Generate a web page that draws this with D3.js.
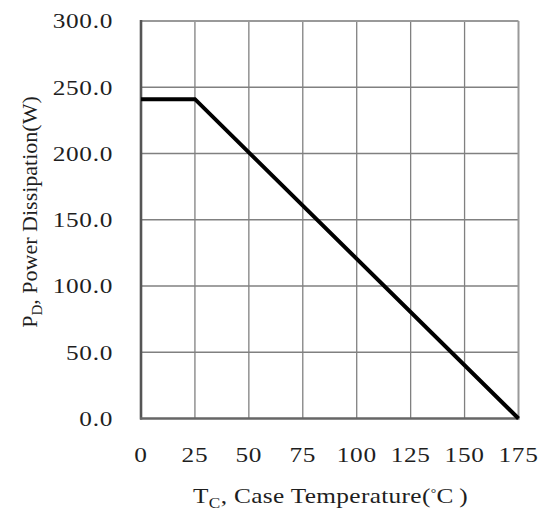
<!DOCTYPE html>
<html><head><meta charset="utf-8">
<script src="https://cdn.jsdelivr.net/npm/d3@7"></script>
<style>
body{margin:0;background:#fff;}
text{font-family:"Liberation Serif","Times New Roman",serif;fill:#1e1e1e;}
</style></head>
<body><svg id="c" width="550" height="516"></svg>
<script>
const tempC = [0, 25, 175];
const powerW = [241, 241, 0];
const xTicks = [0, 25, 50, 75, 100, 125, 150, 175];
const yTicks = [0, 50, 100, 150, 200, 250, 300];

const svg = d3.select("#c");
const L = 141, R = 518.5, T = 21, B = 418.5;
const x = d3.scaleLinear().domain([0, 175]).range([L, R]);
const y = d3.scaleLinear().domain([0, 300]).range([B, T]);
const SX = 1.15;

// grid
svg.append("g").selectAll("line").data(xTicks.slice(1, -1)).join("line")
  .attr("x1", d => x(d)).attr("x2", d => x(d)).attr("y1", T).attr("y2", B)
  .attr("stroke", "#808080").attr("stroke-width", 1.3);
svg.append("g").selectAll("line").data(yTicks.slice(1, -1)).join("line")
  .attr("y1", d => y(d)).attr("y2", d => y(d)).attr("x1", L).attr("x2", R)
  .attr("stroke", "#808080").attr("stroke-width", 1.3);

// frame
svg.append("line").attr("x1", L).attr("x2", R).attr("y1", T).attr("y2", T).attr("stroke", "#999").attr("stroke-width", 2);
svg.append("line").attr("x1", R).attr("x2", R).attr("y1", T).attr("y2", B).attr("stroke", "#999").attr("stroke-width", 2);
svg.append("line").attr("x1", L).attr("x2", L).attr("y1", T - 1).attr("y2", B + 1).attr("stroke", "#555").attr("stroke-width", 2.6);
svg.append("line").attr("x1", L - 1).attr("x2", R + 1).attr("y1", B).attr("y2", B).attr("stroke", "#666").attr("stroke-width", 2.4);

// data line
const pts = tempC.map((t, i) => [t, powerW[i]]);
svg.append("path").datum(pts)
  .attr("d", d3.line().x(d => x(d[0])).y(d => y(d[1])))
  .attr("fill", "none").attr("stroke", "#000").attr("stroke-width", 4).attr("stroke-linejoin", "miter");

// tick labels
svg.append("g").selectAll("text").data(xTicks).join("text")
  .attr("transform", d => `translate(${x(d)},462) scale(${SX},1)`)
  .attr("text-anchor", "middle").style("font-size", "22px").style("letter-spacing", "0.6px").text(d => d);
svg.append("g").selectAll("text").data(yTicks).join("text")
  .attr("transform", d => `translate(113,${y(d)}) scale(${SX},1)`)
  .attr("text-anchor", "end").attr("dy", "0.34em").style("font-size", "22px").style("letter-spacing", "0.6px").text(d => d.toFixed(1));

// x title
const xt = svg.append("text").attr("transform", `translate(330.5,503) scale(${SX},1)`)
  .attr("text-anchor", "middle").style("font-size", "22px").style("letter-spacing", "0.3px");
xt.append("tspan").text("T");
xt.append("tspan").attr("dy", 5).style("font-size", "15px").text("C");
xt.append("tspan").attr("dy", -5).text(", Case Temperature(");
xt.append("tspan").attr("dy", -6).style("font-size", "12px").text("°");
xt.append("tspan").attr("dy", 6).text("C\u2009)");

// y title
const yt = svg.append("text").attr("transform", `translate(37,212) rotate(-90)`)
  .attr("text-anchor", "middle").style("font-size", "22px");
yt.append("tspan").text("P");
yt.append("tspan").attr("dy", 5).style("font-size", "15px").text("D");
yt.append("tspan").attr("dy", -5).text(", Power Dissipation(W)");
</script></body></html>
